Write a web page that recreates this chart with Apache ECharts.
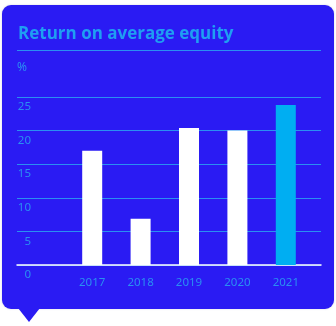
<!DOCTYPE html>
<html>
<head>
<meta charset="utf-8">
<script src="https://cdn.jsdelivr.net/npm/echarts@6/dist/echarts.min.js"></script>
<style>
  html, body { margin: 0; padding: 0; background: #ffffff; }
  #wrap { position: relative; width: 336px; height: 326px; overflow: hidden; }
  #card {
    position: absolute; left: 2px; top: 5px; width: 332px; height: 304px;
    background: #2a1bf3; border-radius: 9px;
    box-shadow: 0 0 2px rgba(120, 120, 160, 0.35);
  }
  #tip {
    position: absolute; left: 18px; top: 308px; width: 0; height: 0;
    border-left: 11px solid transparent; border-right: 11px solid transparent;
    border-top: 14px solid #2a1bf3;
  }
  #main { position: absolute; left: 0; top: 0; width: 336px; height: 326px; }
</style>
</head>
<body>
<div id="wrap">
  <div id="card"></div>
  <div id="tip"></div>
  <div id="main"></div>
</div>
<script>
// dati
var years = ['2017', '2018', '2019', '2020', '2021'];
var roe = [17.0, 6.9, 20.4, 20.0, 23.8];
var yMin = 0, yMax = 25, yStep = 5;

var blu = '#2a1bf3';
var azzurro = '#2a8ff2';
var evidenza = '#00aef2';

var chart = echarts.init(document.getElementById('main'), null, { renderer: 'canvas' });

var option = {
  backgroundColor: 'transparent',
  animation: false,
  title: {
    text: 'Return on average equity',
    left: 13,
    top: 21,
    textStyle: {
      color: '#1f9ff2',
      fontSize: 17,
      fontWeight: 'bold',
      fontFamily: 'Open Sans'
    }
  },
  graphic: [{
    type: 'line',
    shape: { x1: 17, y1: 50.5, x2: 321, y2: 50.5 },
    style: { stroke: azzurro, lineWidth: 1 }
  }],
  grid: [
    // griglia larga per le linee orizzontali
    { left: 17, right: 15, top: 97, bottom: 61 },
    // griglia delle barre
    { left: 68, right: 26, top: 97, bottom: 61 }
  ],
  xAxis: [{
    gridIndex: 0,
    type: 'category',
    data: years,
    axisLine: { lineStyle: { color: '#ffffff', width: 1.5 } },
    axisTick: { show: false },
    axisLabel: { show: false }
  }, {
    gridIndex: 1,
    type: 'category',
    data: years,
    axisLine: { show: false },
    axisTick: { show: false },
    axisLabel: {
      color: azzurro,
      fontSize: 11.5,
      fontFamily: 'Noto Sans',
      margin: 12
    }
  }],
  yAxis: [{
    gridIndex: 0,
    type: 'value',
    min: yMin,
    max: yMax,
    interval: yStep,
    name: '%',
    nameLocation: 'end',
    nameGap: 29,
    nameTextStyle: {
      color: azzurro, fontSize: 12, fontFamily: 'Noto Sans',
      align: 'left', verticalAlign: 'middle'
    },
    axisLine: { show: false },
    axisTick: { show: false },
    axisLabel: {
      inside: true,
      align: 'right',
      margin: 14,
      color: azzurro,
      fontSize: 11.5,
      fontFamily: 'Noto Sans',
      verticalAlign: 'top',
      lineHeight: 20
    },
    splitLine: { lineStyle: { color: azzurro, width: 1 } }
  }, {
    gridIndex: 1,
    type: 'value',
    min: yMin,
    max: yMax,
    interval: yStep,
    show: false,
    splitLine: { show: false }
  }],
  series: [{
    type: 'bar',
    xAxisIndex: 1,
    yAxisIndex: 1,
    data: roe.map(function (v, i) {
      return {
        value: v,
        itemStyle: { color: i === roe.length - 1 ? evidenza : '#ffffff' }
      };
    }),
    barWidth: 20
  }]
};

chart.setOption(option);
</script>
</body>
</html>
